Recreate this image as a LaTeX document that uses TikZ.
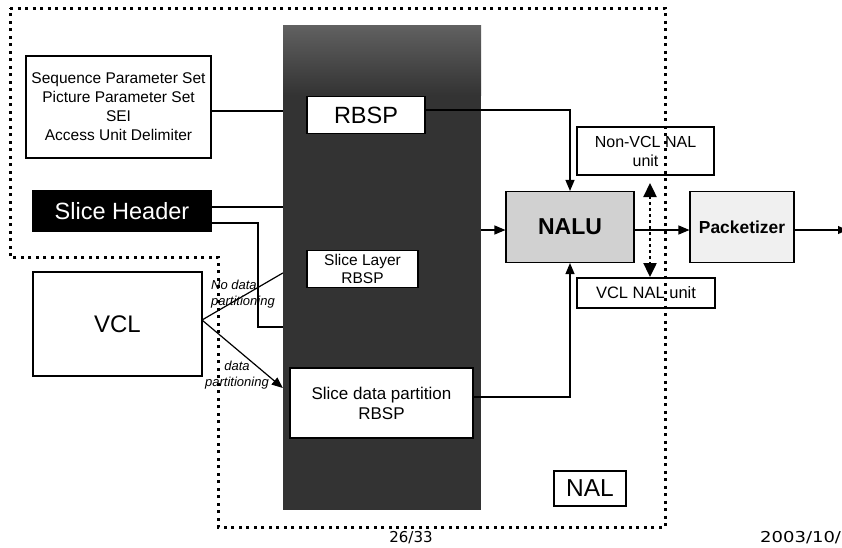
\documentclass[tikz,border=0pt]{standalone}
\usepackage{fontspec}
\setmainfont{Liberation Sans}
\newfontfamily\footfont{DejaVu Sans}
\usetikzlibrary{arrows.meta}

\begin{document}
\begin{tikzpicture}[x=1pt,y=-1pt,
  box/.style={draw, line width=1.1pt, fill=white, align=center, inner sep=0pt},
  conn/.style={line width=1.2pt},
  arr/.style={conn, -{Triangle[length=11pt,width=9pt]}},
  fnt/.style={font=\fontsize{#1}{#1}\selectfont},
  border/.style={line width=3pt, dash pattern=on 3pt off 4.5pt},
  lbl/.style={font=\fontsize{13}{16}\selectfont\itshape, inner sep=0pt, align=#1}
]
\useasboundingbox (0,0) rectangle (842,547);

% dark RBSP band
\node[fill=black!80, draw=none, minimum width=198, minimum height=485, inner sep=0pt] (band) at (382,267.5) {};
\shade[top color=black!62, bottom color=black!80] (283,25) rectangle (481,95);

% connectors that vanish under the band
\node[box, minimum width=185, minimum height=102, font=\fontsize{15.5}{19}\selectfont] (sps) at (118.5,107)
  {Sequence Parameter Set\\Picture Parameter Set\\SEI\\Access Unit Delimiter};
\node[box, fill=black, text=white, minimum width=178, minimum height=40, fnt=23.5] (sh) at (122,211) {Slice Header};
\node[box, minimum width=169, minimum height=104, fnt=24] (vcl) at (117.5,324) {VCL};

\coordinate (shA) at (211,207);
\coordinate (shB) at (211,223);
\coordinate (vclo) at (202,320);
\draw[conn] (sps.east |- 0,111) -- (band.west |- 0,111);
\draw[conn] (shA) -- (band.west |- shA);
\draw[conn] (shB) -- (258,223) -- (258,327) -- (band.west |- 0,327);
\draw[conn] (vclo) -- (band.west |- 0,273);
\draw[arr] (vclo) -- (band.west |- 0,388);

% white boxes inside the band
\node[box, minimum width=118, minimum height=37, fnt=23.5] (rbsp) at (366,115) {RBSP};
\node[box, minimum width=111, minimum height=37, font=\fontsize{15.5}{18}\selectfont] (slr) at (362.5,269) {Slice Layer\\RBSP};
\node[box, minimum width=183, minimum height=70, font=\fontsize{17}{20}\selectfont] (sdp) at (381.5,403) {Slice data partition\\RBSP};

% NAL unit stage
\node[box, fill=black!18, minimum width=128, minimum height=71, font=\fontsize{23}{24}\selectfont\bfseries] (nalu) at (570,227) {NALU};
\node[box, fill=black!6, minimum width=104, minimum height=71, font=\fontsize{17.4}{20}\selectfont\bfseries] (pk) at (742,227) {Packetizer};
\node[box, minimum width=137, minimum height=48, font=\fontsize{16}{19}\selectfont] (nvcl) at (645.5,151) {Non-VCL NAL\\unit};
\node[box, minimum width=138, minimum height=30, font=\fontsize{16.5}{19}\selectfont] (vnal) at (646,293) {VCL NAL unit};
\node[box, minimum width=72, minimum height=35, fnt=24.5] (nal) at (590,488.5) {NAL};

\draw[arr] (rbsp.east |- 0,110) -- (570,110) -- (nalu.north);
\draw[arr] (sdp.east |- 0,397) -- (570,397) -- (nalu.south);
\draw[arr] (band.east |- 0,230) -- (nalu.west |- 0,230);
\draw[arr] (nalu.east |- 0,230) -- (pk.west |- 0,230);
\coordinate (out) at (847,230);
\draw[conn, -{Triangle[length=9pt,width=8pt]}] (pk.east |- 0,230) -- (out);

\coordinate (da1) at (650,183);
\coordinate (da2) at (650,277);
\draw[line width=2.4pt, dash pattern=on 2.5pt off 3.5pt,
  {Triangle[length=14pt,width=13pt]}-{Triangle[length=14pt,width=13pt]}] (da1) -- (da2);

% partitioning labels
\node[lbl=left, anchor=north west] (lnd) at (211,280) {No data\\partitioning};
\node[lbl=center, anchor=north] (ld) at (237,361) {data\\partitioning};

% dotted NAL region outline
\draw[border] (10,8) -- (665,8) -- (665,527) -- (218,527) -- (218,257) -- (10,257) -- cycle;

% footer
\node[font=\footfont\fontsize{15}{17}\selectfont, inner sep=0pt] (pg) at (411,538) {26/33};
\node[font=\footfont\fontsize{15}{17}\selectfont, inner sep=0pt, anchor=west] (dt) at (760,538) {\scalebox{1.2}[1]{2003/10/}};
\end{tikzpicture}
\end{document}
